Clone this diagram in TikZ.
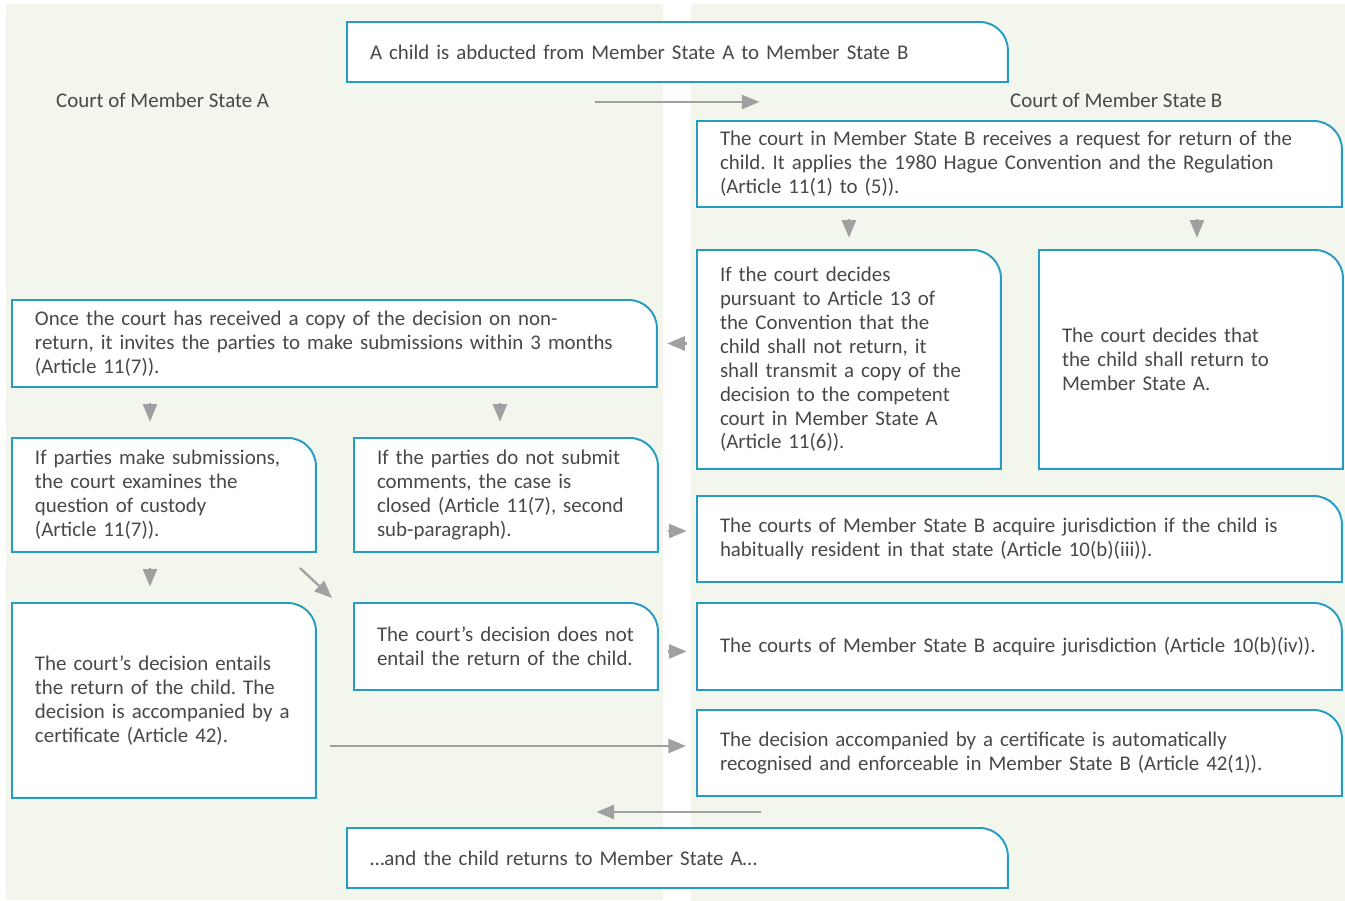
\documentclass[tikz,border=0pt]{standalone}
\usepackage{fontspec}
\setmainfont{Carlito}
\usetikzlibrary{arrows.meta,calc,backgrounds}
\definecolor{panel}{RGB}{243,246,236}
\definecolor{frame}{RGB}{38,156,196}
\definecolor{ink}{RGB}{72,72,72}
\definecolor{arrowgray}{RGB}{160,160,160}
\frenchspacing
\begin{document}
\begin{tikzpicture}[x=0.02cm,y=-0.02cm,font=\fontsize{11.9}{13.6}\selectfont,text=ink,
		stage/.style={anchor=north west,align=left,inner xsep=0.46cm,inner ysep=0pt,outer sep=0pt},
		wide/.style={stage,text width=11.98cm},
		narrow/.style={stage,text width=5.16cm},
		banner/.style={stage,text width=12.3cm,minimum height=1.2cm},
		arrow/.style={-{Triangle[length=10pt,width=8pt]},draw=arrowgray,line width=1.3pt},
		stub/.style={arrow,shorten <=#1,shorten >=#1}]
			\def\rr{16pt} \def\kk{7.2pt}
			\useasboundingbox (0,0) rectangle (1345,901);
			\node[banner] (abd) at (347,22) {A child is abducted from Member State A to Member State B};
			\node[anchor=west] (labA) at (50,100) {Court of Member State A};
			\node[anchor=west] (labB) at (1004,100) {Court of Member State B};
			%===========================================
			\node[wide,minimum height=1.72cm] (recv) at (697,121) {The court in Member State B receives a request for return of the\\ child. It applies the 1980 Hague Convention and the Regulation\\ (Article 11(1) to (5)).};
			\node[narrow,minimum height=4.38cm] (dec13) at (697,250) {If the court decides\\ pursuant to Article 13 of\\ the Convention that the\\ child shall not return, it\\ shall transmit a copy of the\\ decision to the competent\\ court in Member State A\\ (Article 11(6)).};
			\node[narrow,minimum height=4.38cm] (ret) at (1039,250) {The court decides that\\ the child shall return to\\ Member State A.};
			\node[wide,minimum height=1.74cm] (once) at (12,300) {Once the court has received a copy of the decision on non-\\return, it invites the parties to make submissions within 3 months\\ (Article 11(7)).};
			\node[narrow,minimum height=2.28cm] (ifsub) at (12,438) {If parties make submissions,\\ the court examines the\\ question of custody\\ (Article 11(7)).};
			\node[narrow,minimum height=2.28cm] (nosub) at (354,438) {If the parties do not submit\\ comments, the case is\\ closed (Article 11(7), second\\ sub-paragraph).};
			\node[wide,minimum height=1.72cm] (jurb) at (697,496) {The courts of Member State B acquire jurisdiction if the child is\\ habitually resident in that state (Article 10(b)(iii)).};
			\node[narrow,minimum height=3.9cm] (entail) at (12,603) {The court’s decision entails\\ the return of the child. The\\ decision is accompanied by a\\ certificate (Article 42).};
			\node[narrow,minimum height=1.74cm] (notret) at (354,603) {The court’s decision does not\\ entail the return of the child.};
			\node[wide,minimum height=1.74cm] (jurc) at (697,603) {The courts of Member State B acquire jurisdiction (Article 10(b)(iv)).};
			\node[wide,minimum height=1.72cm] (cert) at (697,710) {The decision accompanied by a certificate is automatically\\ recognised and enforceable in Member State B (Article 42(1)).};
			\node[banner] (back) at (347,828) {…and the child returns to Member State A…};
			%===========================================
			\draw[arrow] ($(abd.south)+(-82,20)$)--($(abd.south)+(82,20)$);
			\draw[stub=7pt] (recv.south -| dec13.north)--(dec13.north);
			\draw[stub=7pt] ($(recv.south -| ret.north)+(6,0)$)--($(ret.north)+(6,0)$);
			\draw[stub=5.9pt] (dec13.west |- once.east)--(once.east);
			\draw[stub=9.3pt] ($(once.south -| ifsub.north)+(-14,0)$)--($(ifsub.north)+(-14,0)$);
			\draw[stub=9.3pt] ($(once.south -| nosub.north)+(-6,0)$)--($(nosub.north)+(-6,0)$);
			\draw[stub=5.9pt] ($(nosub.east)+(0,36)$)--($(nosub.east -| jurb.west)+(0,36)$);
			\draw[stub=9.3pt] ($(ifsub.south)+(-14,0)$)--($(entail.north)+(-14,0)$);
			\draw[arrow] ($(ifsub.south east)+(-16,16)$)--($(notret.north west)+(-22,-5)$);
			\draw[stub=5.9pt] ($(notret.east)+(0,5)$)--($(jurc.west)+(0,5)$);
			\draw[arrow] ($(entail.east |- cert.west)+(14,-7)$)--($(cert.west)+(-11,-7)$);
			\draw[arrow] ($(back.north)+(84,-16)$)--($(back.north)+(-81,-16)$);
			\begin{scope}[on background layer]
				\fill[panel] (6,4) rectangle (663,900);
				\fill[panel] (691,4) rectangle (1345,901);
				\foreach \n in {abd,recv,dec13,ret,once,ifsub,nosub,jurb,entail,notret,jurc,cert,back}
				\filldraw[fill=white,draw=frame,line width=1.1pt] (\n.south west)--(\n.north west)--([xshift=-\rr]\n.north east)
					.. controls ([xshift=-\kk]\n.north east) and ([yshift=-\kk]\n.north east) .. ([yshift=-\rr]\n.north east)--(\n.south east)--cycle;
			\end{scope}
	\end{tikzpicture}
\end{document}
